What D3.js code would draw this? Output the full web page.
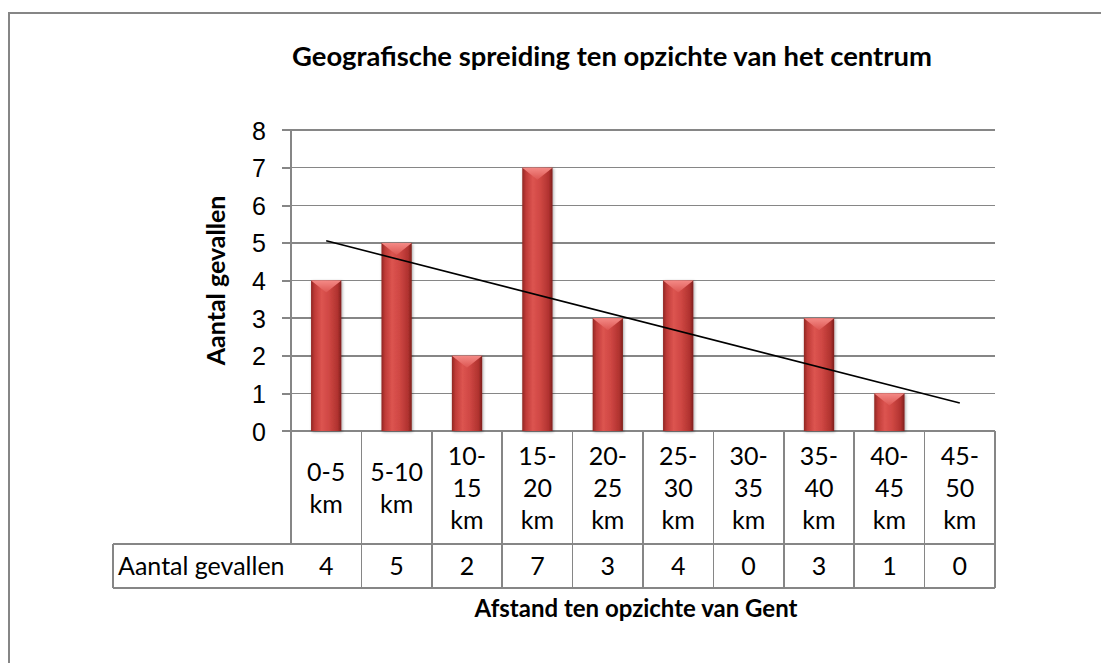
<!DOCTYPE html>
<html>
<head>
<meta charset="utf-8">
<script src="https://d3js.org/d3.v7.min.js"></script>
<style>
  body { margin: 0; background: #fff; }
  svg { font-family: Lato, "Open Sans", sans-serif; }
  .grid line { stroke: #868686; stroke-width: 1.5; shape-rendering: crispEdges; }
  .axis path { display: none; }
  .axis line { stroke: #868686; stroke-width: 1.5; shape-rendering: crispEdges; }
  .axis text { font-size: 25px; fill: #000; }
  .table line { stroke: #868686; stroke-width: 1.5; shape-rendering: crispEdges; }
  .table text { font-size: 25px; fill: #000; }
</style>
</head>
<body>
<script>
// data
var categories = ["0-5 km", "5-10 km", "10-15 km", "15-20 km", "20-25 km",
                  "25-30 km", "30-35 km", "35-40 km", "40-45 km", "45-50 km"];
// label lines as shown in the table cells
var categoryLines = [["0-5", "km"], ["5-10", "km"], ["10-", "15", "km"], ["15-", "20", "km"],
                     ["20-", "25", "km"], ["25-", "30", "km"], ["30-", "35", "km"],
                     ["35-", "40", "km"], ["40-", "45", "km"], ["45-", "50", "km"]];
var values = [4, 5, 2, 7, 3, 4, 0, 3, 1, 0];
var yTicks = [0, 1, 2, 3, 4, 5, 6, 7, 8];
var seriesName = "Aantal gevallen";
var title = "Geografische spreiding ten opzichte van het centrum";
var xTitle = "Afstand ten opzichte van Gent";
var yTitle = "Aantal gevallen";

var W = 1101, H = 663;
var plot = { left: 291, right: 995, top: 130, bottom: 431 };
var tableBottom = 544, rowBottom = 588, headerLeft = 113;

var svg = d3.select("body").append("svg")
  .attr("width", W)
  .attr("height", H);

// outer chart border (right and bottom fall outside the picture)
svg.append("rect")
  .attr("x", 9).attr("y", 13)
  .attr("width", 1200).attr("height", 700)
  .attr("fill", "#fff")
  .attr("stroke", "#868686")
  .attr("stroke-width", 2);

var x = d3.scaleBand().domain(categories).range([plot.left, plot.right]).padding(0);
var y = d3.scaleLinear().domain([0, 8]).range([plot.bottom, plot.top]);

var defs = svg.append("defs");
var g1 = defs.append("linearGradient").attr("id", "barGrad")
  .attr("x1", "0%").attr("x2", "100%").attr("y1", "0%").attr("y2", "0%");
[["0%", "#8f2623"], ["12%", "#bf3b37"], ["35%", "#dc5450"], ["60%", "#cf4743"], ["88%", "#b0322f"], ["100%", "#7e1f1c"]]
  .forEach(function (s) { g1.append("stop").attr("offset", s[0]).attr("stop-color", s[1]); });
var g2 = defs.append("linearGradient").attr("id", "topGrad")
  .attr("x1", "0%").attr("x2", "0%").attr("y1", "0%").attr("y2", "100%");
[["0%", "#f48a86"], ["100%", "#dc5652"]]
  .forEach(function (s) { g2.append("stop").attr("offset", s[0]).attr("stop-color", s[1]); });
var sh = defs.append("filter").attr("id", "shadow").attr("x", "-30%").attr("y", "-10%").attr("width", "160%").attr("height", "130%");
sh.append("feDropShadow").attr("dx", 1).attr("dy", 1).attr("stdDeviation", 1.5).attr("flood-color", "#000").attr("flood-opacity", 0.35);

// gridlines
svg.append("g").attr("class", "grid")
  .selectAll("line").data(yTicks).enter().append("line")
  .attr("x1", plot.left - 9).attr("x2", plot.right)
  .attr("y1", function (d) { return y(d); })
  .attr("y2", function (d) { return y(d); });

// y axis
var yAxis = svg.append("g").attr("class", "axis")
  .attr("transform", "translate(" + plot.left + ",0)")
  .call(d3.axisLeft(y).tickValues(yTicks).tickSize(9).tickPadding(16));
yAxis.selectAll("text").attr("dy", "0.36em");
svg.append("line")
  .attr("x1", plot.left).attr("x2", plot.left)
  .attr("y1", plot.top).attr("y2", tableBottom)
  .attr("stroke", "#868686").attr("stroke-width", 1.5).style("shape-rendering", "crispEdges");

// bars, with a bevelled top
var bw = x.bandwidth() * 0.43;
var barGroup = svg.append("g");
values.forEach(function (v, i) {
  if (v <= 0) return;
  var bx = x(categories[i]) + (x.bandwidth() - bw) / 2;
  var top = y(v);
  var gb = barGroup.append("g").attr("filter", "url(#shadow)");
  gb.append("rect")
    .attr("x", bx).attr("y", top)
    .attr("width", bw).attr("height", y(0) - top)
    .attr("fill", "url(#barGrad)");
  gb.append("path")
    .attr("d", "M" + bx + "," + top + "L" + (bx + bw) + "," + top + "L" + (bx + bw / 2) + "," + (top + 12) + "Z")
    .attr("fill", "url(#topGrad)");
});

// linear trendline (least squares over category index)
var n = values.length;
var mx = d3.mean(values, function (d, i) { return i + 1; });
var my = d3.mean(values);
var sxy = d3.sum(values, function (d, i) { return (i + 1 - mx) * (d - my); });
var sxx = d3.sum(values, function (d, i) { return (i + 1 - mx) * (i + 1 - mx); });
var slope = sxy / sxx, icept = my - slope * mx;
var trend = [1, n].map(function (k) {
  return [x(categories[k - 1]) + x.bandwidth() / 2, y(icept + slope * k)];
});
svg.append("path")
  .attr("d", d3.line()(trend))
  .attr("fill", "none")
  .attr("stroke", "#000")
  .attr("stroke-width", 1.6);

// data table
var table = svg.append("g").attr("class", "table");
categories.forEach(function (c) {
  table.append("line")
    .attr("x1", x(c) + x.bandwidth()).attr("x2", x(c) + x.bandwidth())
    .attr("y1", plot.bottom).attr("y2", rowBottom);
});
table.append("line").attr("x1", headerLeft).attr("x2", plot.right).attr("y1", tableBottom).attr("y2", tableBottom);
table.append("line").attr("x1", headerLeft).attr("x2", plot.right).attr("y1", rowBottom).attr("y2", rowBottom);
table.append("line").attr("x1", headerLeft).attr("x2", headerLeft).attr("y1", tableBottom).attr("y2", rowBottom);

var lh = 32;
categories.forEach(function (c, i) {
  var lines = categoryLines[i];
  var cx = x(c) + x.bandwidth() / 2;
  var cy = (plot.bottom + tableBottom) / 2;
  var t = table.append("text").attr("text-anchor", "middle");
  lines.forEach(function (l, k) {
    t.append("tspan")
      .attr("x", cx)
      .attr("y", cy + (k - (lines.length - 1) / 2) * lh)
      .attr("dy", "0.36em")
      .text(l);
  });
  table.append("text")
    .attr("text-anchor", "middle")
    .attr("x", cx)
    .attr("y", (tableBottom + rowBottom) / 2)
    .attr("dy", "0.36em")
    .text(values[i]);
});
table.append("text")
  .attr("x", headerLeft + 5)
  .attr("y", (tableBottom + rowBottom) / 2)
  .attr("dy", "0.36em")
  .text(seriesName);

// titles
svg.append("text")
  .attr("x", 612).attr("y", 66)
  .attr("text-anchor", "middle")
  .style("font-weight", "bold").style("font-size", "27.4px")
  .text(title);
svg.append("text")
  .attr("x", 636).attr("y", 617)
  .attr("text-anchor", "middle")
  .style("font-weight", "bold").style("font-size", "24px")
  .text(xTitle);
svg.append("text")
  .attr("transform", "translate(225," + (plot.top + plot.bottom) / 2 + ") rotate(-90)")
  .attr("text-anchor", "middle")
  .style("font-weight", "bold").style("font-size", "25px")
  .text(yTitle);
</script>
</body>
</html>
